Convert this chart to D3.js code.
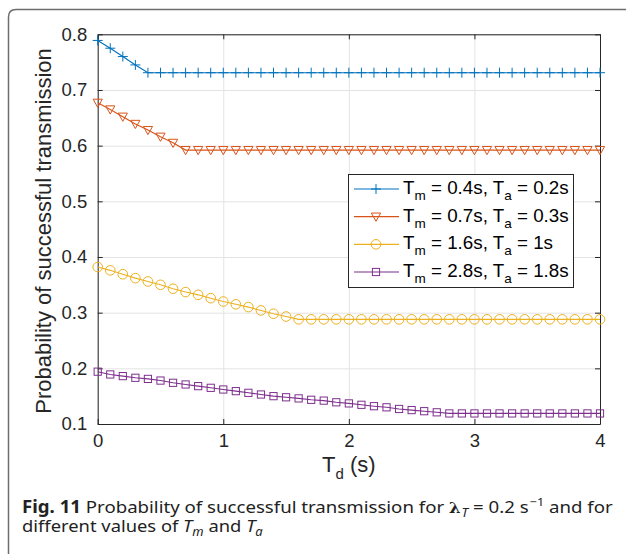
<!DOCTYPE html>
<html>
<head>
<meta charset="utf-8">
<script src="https://cdn.jsdelivr.net/npm/d3@7"></script>
<style>
  body { margin: 0; background: #fff; }
  svg { display: block; }
  .axis path, .axis line { stroke: #262626; }
  .axis text { fill: #262626; font-family: "Liberation Sans", Arial, sans-serif; font-size: 18.5px; }
  .grid line { stroke: #e3e3e3; }
  .grid path { display: none; }
</style>
</head>
<body>
<div id="chart"></div>
<script>
// sampling grid of T_d (s), one point every 0.1 s
var tdValues = d3.range(41).map(function (i) { return i / 10; });

var xTicks = [0, 1, 2, 3, 4];
var yTicks = [0.1, 0.2, 0.3, 0.4, 0.5, 0.6, 0.7, 0.8];

// Tm = 0.4s, Ta = 0.2s
var seriesA = [0.789, 0.775, 0.760, 0.745, 0.731,
    0.731, 0.731, 0.731, 0.731, 0.731, 0.731, 0.731, 0.731, 0.731, 0.731, 0.731, 0.731,
    0.731, 0.731, 0.731, 0.731, 0.731, 0.731, 0.731, 0.731, 0.731, 0.731, 0.731, 0.731,
    0.731, 0.731, 0.731, 0.731, 0.731, 0.731, 0.731, 0.731, 0.731, 0.731, 0.731, 0.731];

// Tm = 0.7s, Ta = 0.3s
var seriesB = [0.677, 0.665, 0.652, 0.639, 0.628, 0.616, 0.605, 0.592,
    0.592, 0.592, 0.592, 0.592, 0.592, 0.592, 0.592, 0.592, 0.592, 0.592, 0.592, 0.592, 0.592,
    0.592, 0.592, 0.592, 0.592, 0.592, 0.592, 0.592, 0.592, 0.592, 0.592, 0.592, 0.592,
    0.592, 0.592, 0.592, 0.592, 0.592, 0.592, 0.592, 0.592];

// Tm = 1.6s, Ta = 1s
var seriesC = [0.382, 0.376, 0.369, 0.362, 0.356, 0.350, 0.343, 0.337, 0.332, 0.326,
    0.320, 0.315, 0.310, 0.304, 0.298, 0.293, 0.288,
    0.288, 0.288, 0.288, 0.288, 0.288, 0.288, 0.288, 0.288, 0.288, 0.288, 0.288, 0.288,
    0.288, 0.288, 0.288, 0.288, 0.288, 0.288, 0.288, 0.288, 0.288, 0.288, 0.288, 0.288];

// Tm = 2.8s, Ta = 1.8s
var seriesD = [0.194, 0.189, 0.186, 0.183, 0.181, 0.178, 0.174, 0.171, 0.168, 0.165,
    0.162, 0.159, 0.156, 0.153, 0.150, 0.148, 0.146, 0.1435, 0.142, 0.139,
    0.137, 0.1345, 0.132, 0.130, 0.127, 0.125, 0.123, 0.121, 0.119,
    0.119, 0.119, 0.119, 0.119, 0.119, 0.119, 0.119, 0.119, 0.119, 0.119, 0.119, 0.119];

var legendTm = ["0.4s", "0.7s", "1.6s", "2.8s"];
var legendTa = ["0.2s", "0.3s", "1s", "1.8s"];
var colors = ["#0072BD", "#D95319", "#EDB120", "#7E2F8E"];
var markers = ["plus", "triangle", "circle", "square"];

var series = [seriesA, seriesB, seriesC, seriesD].map(function (vals, i) {
    return {
        values: vals.map(function (v, j) { return {x: tdValues[j], y: v}; }),
        color: colors[i],
        marker: markers[i],
        tm: legendTm[i],
        ta: legendTa[i]
    };
});

var W = 626, H = 554;
var plotLeft = 97.7, plotRight = 600, plotTop = 34.3, plotBottom = 424;

var svg = d3.select("#chart").append("svg")
    .attr("width", W)
    .attr("height", H);

svg.append("rect").attr("width", W).attr("height", H).attr("fill", "#fff");

// outer frame with rounded top-left corner
svg.append("path")
    .attr("d", "M8.5," + H + " L8.5,17 Q8.5,9.5 16,9.5 L" + W + ",9.5")
    .attr("fill", "none")
    .attr("stroke", "#6e6e6e")
    .attr("stroke-width", 1.5);

var x = d3.scaleLinear().domain([0, 4]).range([plotLeft, plotRight]);
var y = d3.scaleLinear().domain([0.1, 0.8]).range([plotBottom, plotTop]);

// grid
svg.append("g")
    .attr("class", "grid")
    .attr("transform", "translate(0," + plotBottom + ")")
    .call(d3.axisBottom(x).tickValues(xTicks).tickSize(-(plotBottom - plotTop)).tickFormat(""));
svg.append("g")
    .attr("class", "grid")
    .attr("transform", "translate(" + plotLeft + ",0)")
    .call(d3.axisLeft(y).tickValues(yTicks).tickSize(-(plotRight - plotLeft)).tickFormat(""));

// axes box with inward ticks
svg.append("g")
    .attr("class", "axis")
    .attr("transform", "translate(0," + plotBottom + ")")
    .call(d3.axisBottom(x).tickValues(xTicks).tickSizeInner(-5).tickSizeOuter(0).tickPadding(10)
        .tickFormat(d3.format("d")));
svg.append("g")
    .attr("class", "axis")
    .attr("transform", "translate(0," + plotTop + ")")
    .call(d3.axisTop(x).tickValues(xTicks).tickSizeInner(-5).tickSizeOuter(0).tickFormat(""));
svg.append("g")
    .attr("class", "axis")
    .attr("transform", "translate(" + plotLeft + ",0)")
    .call(d3.axisLeft(y).tickValues(yTicks).tickSizeInner(-5).tickSizeOuter(0).tickPadding(10.5)
        .tickFormat(d3.format(".1f")));
svg.append("g")
    .attr("class", "axis")
    .attr("transform", "translate(" + plotRight + ",0)")
    .call(d3.axisRight(y).tickValues(yTicks).tickSizeInner(-5).tickSizeOuter(0).tickFormat(""));

function drawMarker(sel, type, color) {
    if (type === "plus") {
        sel.append("path").attr("d", "M-5,0H5M0,-5V5");
    } else if (type === "triangle") {
        sel.append("path").attr("d", "M-4.6,-3.6L4.6,-3.6L0,4.6Z");
    } else if (type === "circle") {
        sel.append("circle").attr("r", 4.8);
    } else {
        sel.append("rect").attr("x", -3.6).attr("y", -3.6).attr("width", 7.2).attr("height", 7.2);
    }
    sel.selectAll("*")
        .attr("fill", "none")
        .attr("stroke", color)
        .attr("stroke-width", 1);
}

var line = d3.line()
    .x(function (d) { return x(d.x); })
    .y(function (d) { return y(d.y); });

var plot = svg.append("g").attr("class", "series");

series.forEach(function (s) {
    plot.append("path")
        .datum(s.values)
        .attr("d", line)
        .attr("fill", "none")
        .attr("stroke", s.color)
        .attr("stroke-width", 1.1);

    plot.append("g")
        .selectAll("g")
        .data(s.values)
        .enter()
        .append("g")
        .attr("transform", function (d) { return "translate(" + x(d.x) + "," + y(d.y) + ")"; })
        .each(function () { drawMarker(d3.select(this), s.marker, s.color); });
});

// axis labels
var labelFont = "Liberation Sans, Arial, sans-serif";

var xLabel = svg.append("text")
    .attr("x", 322)
    .attr("y", 472)
    .attr("font-family", labelFont)
    .attr("font-size", 22)
    .attr("fill", "#262626");
xLabel.append("tspan").text("T");
xLabel.append("tspan").attr("dy", 7).attr("font-size", 15).text("d");
xLabel.append("tspan").attr("dy", -7).text(" (s)");

svg.append("text")
    .attr("transform", "translate(51,231) rotate(-90)")
    .attr("text-anchor", "middle")
    .attr("font-family", labelFont)
    .attr("font-size", 22)
    .attr("fill", "#262626")
    .text("Probability of successful transmission");

// legend
var legend = svg.append("g").attr("class", "legend");
legend.append("rect")
    .attr("x", 348.5).attr("y", 174.5)
    .attr("width", 225).attr("height", 113)
    .attr("fill", "#fff")
    .attr("stroke", "#262626")
    .attr("stroke-width", 1);

var rowY = d3.scalePoint().domain(d3.range(series.length)).range([189, 272]);

series.forEach(function (s, i) {
    var ry = rowY(i);
    legend.append("line")
        .attr("x1", 354).attr("x2", 399)
        .attr("y1", ry).attr("y2", ry)
        .attr("stroke", s.color)
        .attr("stroke-width", 1.1);
    var mk = legend.append("g").attr("transform", "translate(376," + ry + ")");
    drawMarker(mk, s.marker, s.color);

    var t = legend.append("text")
        .attr("x", 403)
        .attr("y", ry + 5)
        .attr("font-family", labelFont)
        .attr("font-size", 18.8)
        .attr("fill", "#000");
    t.append("tspan").text("T");
    t.append("tspan").attr("dy", 6).attr("font-size", 13.5).text("m");
    t.append("tspan").attr("dy", -6).text(" = " + s.tm + ", T");
    t.append("tspan").attr("dy", 6).attr("font-size", 13.5).text("a");
    t.append("tspan").attr("dy", -6).text(" = " + s.ta);
});

// caption
var capFont = "Noto Sans, Open Sans, sans-serif";

function fitWidth(sel, x0, width) {
    var w = sel.node().getBBox().width;
    sel.attr("transform", "translate(" + x0 + ",0) scale(" + (width / w) + ",1)");
}

var cap1 = svg.append("text")
    .attr("x", 0).attr("y", 513)
    .attr("font-family", capFont)
    .attr("font-size", 17)
    .attr("fill", "#222");
cap1.append("tspan").attr("font-weight", "bold").text("Fig. 11");
cap1.append("tspan").text(" Probability of successful transmission for ");
cap1.append("tspan").attr("font-family", "DejaVu Serif, serif").attr("font-weight", "bold").attr("font-size", 15).text("λ");
cap1.append("tspan").attr("dx", 1).attr("dy", 4).attr("font-style", "italic").attr("font-size", 12).text("T");
cap1.append("tspan").attr("dy", -4).text(" = 0.2 s");
cap1.append("tspan").attr("dx", 1).attr("dy", -7).attr("font-size", 11.5).text("−1");
cap1.append("tspan").attr("dy", 7).text(" and for");
fitWidth(cap1, 22, 591);

var cap2 = svg.append("text")
    .attr("x", 0).attr("y", 532)
    .attr("font-family", capFont)
    .attr("font-size", 17)
    .attr("fill", "#222");
cap2.append("tspan").text("different values of ");
cap2.append("tspan").attr("font-style", "italic").text("T");
cap2.append("tspan").attr("dy", 4).attr("font-style", "italic").attr("font-size", 12).text("m");
cap2.append("tspan").attr("dy", -4).text(" and ");
cap2.append("tspan").attr("font-style", "italic").text("T");
cap2.append("tspan").attr("dy", 4).attr("font-style", "italic").attr("font-size", 12).text("a");
fitWidth(cap2, 22, 241);
</script>
</body>
</html>
